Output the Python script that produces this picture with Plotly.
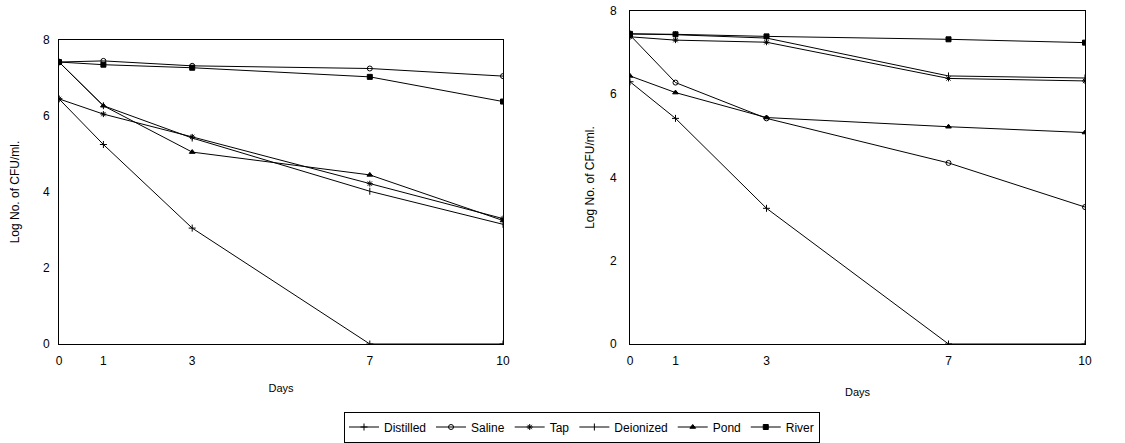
import plotly.graph_objects as go

days = [0, 1, 3, 7, 10]
series_names = ["Distilled", "Saline", "Tap", "Deionized", "Pond", "River"]

# Left panel values (log CFU/ml)
left_distilled = [6.45, 5.25, 3.05, 0.0, 0.0]
left_saline = [7.42, 7.45, 7.32, 7.25, 7.05]
left_tap = [6.45, 6.05, 5.45, 4.22, 3.30]
left_deionized = [7.42, 6.27, 5.42, 4.02, 3.15]
left_pond = [7.42, 6.27, 5.05, 4.45, 3.25]
left_river = [7.42, 7.35, 7.27, 7.03, 6.38]

# Right panel values (log CFU/ml)
right_distilled = [6.30, 5.42, 3.26, 0.0, 0.0]
right_saline = [7.42, 6.28, 5.42, 4.35, 3.29]
right_tap = [7.38, 7.30, 7.25, 6.38, 6.32]
right_deionized = [7.45, 7.43, 7.35, 6.44, 6.39]
right_pond = [6.44, 6.04, 5.44, 5.22, 5.08]
right_river = [7.45, 7.44, 7.39, 7.32, 7.24]

x_ticks = [0, 1, 3, 7, 10]
y_ticks = [0, 2, 4, 6, 8]

symbols = ["cross-thin-open", "circle-open", "asterisk-open", "line-ns-open",
           "triangle-up", "square"]

left_vals = [left_distilled, left_saline, left_tap, left_deionized, left_pond, left_river]
right_vals = [right_distilled, right_saline, right_tap, right_deionized, right_pond, right_river]

fig = go.Figure()
for i, name in enumerate(series_names):
    mk = dict(symbol=symbols[i], size=5, color="black", line=dict(color="black", width=1))
    fig.add_trace(go.Scatter(x=days, y=left_vals[i], mode="lines+markers", name=name,
                             line=dict(color="black", width=1), marker=mk,
                             xaxis="x", yaxis="y", legendgroup=name, showlegend=True))
    fig.add_trace(go.Scatter(x=days, y=right_vals[i], mode="lines+markers", name=name,
                             line=dict(color="black", width=1), marker=mk,
                             xaxis="x2", yaxis="y2", legendgroup=name, showlegend=False))

W, H = 1125, 443
font = "Liberation Sans, Arial, sans-serif"

axis_common = dict(showgrid=False, zeroline=False, showline=True, linecolor="black",
                   linewidth=1, mirror=True, ticks="", automargin=False,
                   tickfont=dict(size=12, color="black"))

fig.update_layout(
    width=W, height=H,
    margin=dict(l=0, r=0, t=0, b=0),
    paper_bgcolor="white", plot_bgcolor="white",
    font=dict(family=font, color="black"),
    xaxis=dict(domain=[59 / W, 503 / W], range=[0, 10], tickvals=x_ticks,
               ticklabelstandoff=6,
               title=dict(text="Days", font=dict(size=11), standoff=16),
               anchor="y", **axis_common),
    yaxis=dict(domain=[1 - 344 / H, 1 - 40 / H], range=[0, 8], tickvals=y_ticks,
               ticklabelstandoff=6,
               title=dict(text="Log No. of CFU/ml.", font=dict(size=12), standoff=20),
               anchor="x", **axis_common),
    xaxis2=dict(domain=[630 / W, 1085 / W], range=[0, 10], tickvals=x_ticks,
                ticklabelstandoff=6,
                title=dict(text="Days", font=dict(size=11), standoff=20),
                anchor="y2", **axis_common),
    yaxis2=dict(domain=[1 - 344 / H, 1 - 11 / H], range=[0, 8], tickvals=y_ticks,
                ticklabelstandoff=10,
                title=dict(text="Log No. of CFU/ml.", font=dict(size=12), standoff=12),
                anchor="x2", **axis_common),
    legend=dict(orientation="h", x=582 / W, y=1 - 427 / H, xanchor="center", yanchor="middle",
                bordercolor="black", borderwidth=1, bgcolor="white",
                font=dict(size=12, color="black"), itemwidth=30, tracegroupgap=0),
    showlegend=True,
)

fig.write_html("out.html", config={"displayModeBar": False},
               post_script="document.body.style.margin='0';")
